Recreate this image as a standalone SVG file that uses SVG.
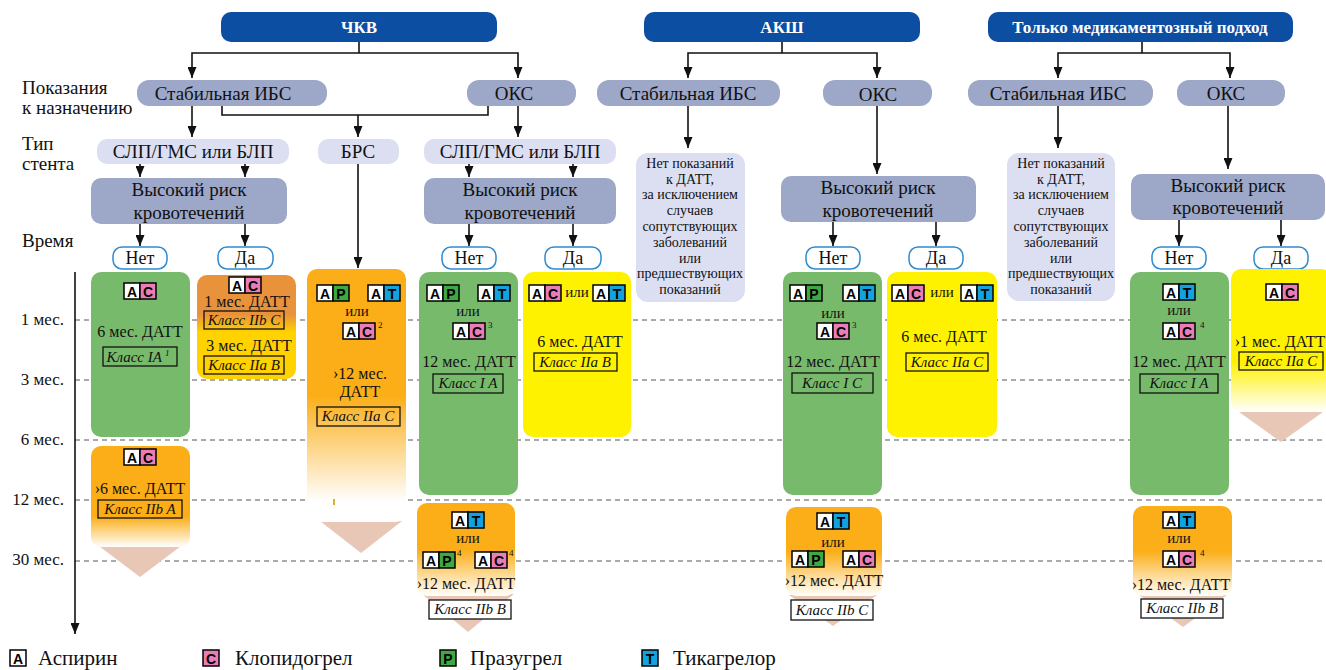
<svg xmlns="http://www.w3.org/2000/svg" width="1326" height="670" viewBox="0 0 1326 670">
<style>
text{font-family:"Liberation Serif","Times New Roman",serif;fill:#111}
.hdr{fill:#0B4EA2}
.hdrt{font-size:17px;font-weight:bold;fill:#fff;text-anchor:middle}
.p2{fill:#9DA7C8}
.p3{fill:#DCDFF1}
.c{text-anchor:middle}
.t19{font-size:19px}
.t18{font-size:18px}
.t16{font-size:16px}
.t15{font-size:15px}
.t14{font-size:14px}
.lbl{font-size:19px}
.tm{font-size:17px;text-anchor:end}
.cls{font-size:15px;font-style:italic;text-anchor:middle}
.sup{font-size:9px}
.cb{fill:none;stroke:#111;stroke-width:1.3}
.cbw{fill:#fff;stroke:#111;stroke-width:1.3}
.yn{fill:#fff;stroke:#2E8BCF;stroke-width:1.5}
.grn{fill:#78BA6B}
.yel{fill:#FFF200}
.tri{fill:#E8C7B7}
.grid{stroke:#555;stroke-width:1;stroke-dasharray:5 4;fill:none}
.conn{stroke:#111;stroke-width:1.6;fill:none}
.arr{marker-end:url(#ah)}
.lt{font-family:"Liberation Sans","DejaVu Sans",sans-serif;font-weight:bold;font-size:14px;text-anchor:middle;fill:#000}
.leg{font-size:21px}
</style>
<defs>
<marker id="ah" viewBox="0 0 11 9" refX="11" refY="4.5" markerWidth="11" markerHeight="9" markerUnits="userSpaceOnUse" orient="auto">
<path d="M0,0 L11,4.5 L0,9 z" fill="#111"/>
</marker>
<linearGradient id="gDa" x1="0" y1="0" x2="0" y2="1">
<stop offset="0" stop-color="#E8923B"/><stop offset="0.38" stop-color="#E8923B"/><stop offset="0.55" stop-color="#FFD200"/><stop offset="1" stop-color="#FFD200"/>
</linearGradient>
<linearGradient id="gOr1" x1="0" y1="0" x2="0" y2="1">
<stop offset="0" stop-color="#FBAE17"/><stop offset="0.7" stop-color="#FBAE17"/><stop offset="1" stop-color="#FFFFFF"/>
</linearGradient>
<linearGradient id="gOr2" x1="0" y1="0" x2="0" y2="1">
<stop offset="0" stop-color="#FBAE17"/><stop offset="0.5" stop-color="#FBAE17"/><stop offset="0.92" stop-color="#FFFFFF"/><stop offset="1" stop-color="#FFFFFF"/>
</linearGradient>
<linearGradient id="gOr3" x1="0" y1="0" x2="0" y2="1">
<stop offset="0" stop-color="#FBAE17"/><stop offset="0.5" stop-color="#FBAE17"/><stop offset="1" stop-color="#FFFFFF"/>
</linearGradient>
<linearGradient id="gYe" x1="0" y1="0" x2="0" y2="1">
<stop offset="0" stop-color="#FFF200"/><stop offset="0.65" stop-color="#FFF200"/><stop offset="1" stop-color="#FFFFFF"/>
</linearGradient>
<g id="cA"><rect x="0" y="0" width="16" height="16" fill="#fff" stroke="#000" stroke-width="1.5"/><text x="8" y="13.5" class="lt">A</text></g>
<g id="cC"><rect x="0" y="0" width="16" height="16" fill="#EA7DB5" stroke="#000" stroke-width="1.5"/><text x="8" y="13.5" class="lt">C</text></g>
<g id="cP"><rect x="0" y="0" width="16" height="16" fill="#3EA843" stroke="#000" stroke-width="1.5"/><text x="8" y="13.5" class="lt">P</text></g>
<g id="cT"><rect x="0" y="0" width="16" height="16" fill="#12A3DF" stroke="#000" stroke-width="1.5"/><text x="8" y="13.5" class="lt">T</text></g>
</defs>

<rect width="1326" height="670" fill="#fff"/>

<!-- row labels -->
<g id="labels">
<text x="22" y="94" class="lbl">Показания</text>
<text x="22" y="114" class="lbl">к назначению</text>
<text x="22" y="150" class="lbl">Тип</text>
<text x="22" y="170" class="lbl">стента</text>
<text x="22" y="247" class="lbl">Время</text>
<text x="64" y="325" class="tm">1 мес.</text>
<text x="64" y="385" class="tm">3 мес.</text>
<text x="64" y="445" class="tm">6 мес.</text>
<text x="64" y="505" class="tm">12 мес.</text>
<text x="64" y="565" class="tm">30 мес.</text>
</g>

<!-- time grid -->
<g id="grid">
<path class="grid" d="M75,320 H1326 M75,380 H1326 M75,440 H1326 M75,500 H1326 M75,561 H1326"/>
</g>

<!-- headers -->
<g id="h-pci"><rect class="hdr" x="221" y="12" width="276" height="30" rx="10"/><text x="359" y="33" class="hdrt">ЧКВ</text></g>
<g id="h-cabg"><rect class="hdr" x="644" y="12" width="276" height="30" rx="10"/><text x="782" y="33" class="hdrt">АКШ</text></g>
<g id="h-med"><rect class="hdr" x="988" y="12" width="305" height="30" rx="10"/><text x="1140" y="33" class="hdrt">Только медикаментозный подход</text></g>

<!-- indications -->
<g id="pci-sib"><rect class="p2" x="137" y="80" width="190" height="26" rx="12"/><text x="223" y="100" class="t19 c">Стабильная ИБС</text></g>
<g id="pci-oks"><rect class="p2" x="467" y="80" width="109" height="26" rx="12"/><text x="514" y="100" class="t19 c">ОКС</text></g>
<g id="cabg-sib"><rect class="p2" x="597" y="80" width="183" height="26" rx="12"/><text x="688" y="100" class="t19 c">Стабильная ИБС</text></g>
<g id="cabg-oks"><rect class="p2" x="823" y="80" width="109" height="26" rx="12"/><text x="878" y="101" class="t19 c">ОКС</text></g>
<g id="med-sib"><rect class="p2" x="968" y="80" width="185" height="26" rx="12"/><text x="1058" y="100" class="t19 c">Стабильная ИБС</text></g>
<g id="med-oks"><rect class="p2" x="1177" y="80" width="108" height="26" rx="12"/><text x="1226" y="100" class="t19 c">ОКС</text></g>

<!-- stent types -->
<g id="st1"><rect class="p3" x="97" y="139" width="192" height="25" rx="10"/><text x="193" y="158" class="t19 c">СЛП/ГМС или БЛП</text></g>
<g id="st2"><rect class="p3" x="318" y="139" width="81" height="25" rx="10"/><text x="358" y="158" class="t19 c">БРС</text></g>
<g id="st3"><rect class="p3" x="424" y="139" width="192" height="25" rx="10"/><text x="520" y="158" class="t19 c">СЛП/ГМС или БЛП</text></g>

<!-- bleeding risk -->
<g id="risk1"><rect class="p2" x="91" y="178" width="196" height="46" rx="10"/><text x="189" y="196" class="t19 c">Высокий риск</text><text x="189" y="219" class="t19 c">кровотечений</text></g>
<g id="risk2"><rect class="p2" x="424" y="178" width="192" height="46" rx="10"/><text x="520" y="196" class="t19 c">Высокий риск</text><text x="520" y="219" class="t19 c">кровотечений</text></g>
<g id="risk3"><rect class="p2" x="781" y="176" width="195" height="46" rx="10"/><text x="878" y="194" class="t19 c">Высокий риск</text><text x="878" y="217" class="t19 c">кровотечений</text></g>
<g id="risk4"><rect class="p2" x="1131" y="174" width="194" height="46" rx="10"/><text x="1228" y="192" class="t19 c">Высокий риск</text><text x="1228" y="214" class="t19 c">кровотечений</text></g>

<!-- no indication boxes -->
<g id="noind1"><rect class="p3" x="636" y="153" width="109" height="149" rx="12"/>
<g class="t14 c"><text x="690" y="168">Нет показаний</text><text x="690" y="184">к ДАТТ,</text><text x="690" y="199">за исключением</text><text x="690" y="215">случаев</text><text x="690" y="231">сопутствующих</text><text x="690" y="247">заболеваний</text><text x="690" y="263">или</text><text x="690" y="278">предшествующих</text><text x="690" y="294">показаний</text></g></g>
<g id="noind2"><rect class="p3" x="1007" y="153" width="108" height="148" rx="12"/>
<g class="t14 c"><text x="1061" y="168">Нет показаний</text><text x="1061" y="184">к ДАТТ,</text><text x="1061" y="199">за исключением</text><text x="1061" y="215">случаев</text><text x="1061" y="231">сопутствующих</text><text x="1061" y="247">заболеваний</text><text x="1061" y="263">или</text><text x="1061" y="278">предшествующих</text><text x="1061" y="294">показаний</text></g></g>

<!-- yes/no pills -->
<g id="yn1"><rect class="yn" x="113" y="247" width="54" height="22" rx="9"/><text x="140" y="264" class="t18 c">Нет</text></g>
<g id="yn2"><rect class="yn" x="218" y="247" width="55" height="22" rx="9"/><text x="245" y="264" class="t18 c">Да</text></g>
<g id="yn3"><rect class="yn" x="442" y="247" width="54" height="22" rx="9"/><text x="469" y="264" class="t18 c">Нет</text></g>
<g id="yn4"><rect class="yn" x="545" y="247" width="56" height="22" rx="9"/><text x="573" y="264" class="t18 c">Да</text></g>
<g id="yn5"><rect class="yn" x="806" y="247" width="54" height="22" rx="9"/><text x="833" y="264" class="t18 c">Нет</text></g>
<g id="yn6"><rect class="yn" x="909" y="247" width="54" height="22" rx="9"/><text x="936" y="264" class="t18 c">Да</text></g>
<g id="yn7"><rect class="yn" x="1152" y="247" width="54" height="22" rx="9"/><text x="1179" y="264" class="t18 c">Нет</text></g>
<g id="yn8"><rect class="yn" x="1254" y="247" width="54" height="22" rx="9"/><text x="1281" y="264" class="t18 c">Да</text></g>

<!-- triangles -->
<g id="triangles">
<polygon class="tri" points="99,546 181,546 140,577"/>
<polygon class="tri" points="320,521 402,521 361,553"/>
<polygon class="tri" points="422,594 514,594 468,632"/>
<polygon class="tri" points="789,595 877,595 833,626"/>
<polygon class="tri" points="1239,412 1323,412 1281,442"/>
<polygon class="tri" points="1139,595 1227,595 1183,627"/>
</g>

<!-- PCI stable, no bleeding risk -->
<g id="b-pci-sib-no">
<rect class="grn" x="91" y="272" width="99" height="165" rx="10"/>
<use href="#cA" x="124" y="283"/><use href="#cC" x="140" y="283"/>
<text x="140" y="337" class="t16 c">6 мес. ДАТТ</text>
<rect class="cb" x="103" y="347" width="74" height="19"/>
<text x="138" y="362" class="cls">Класс IA<tspan class="sup" dx="3" dy="-6">1</tspan></text>
</g>
<g id="b-pci-sib-no2">
<rect x="91" y="446" width="99" height="101" rx="10" fill="url(#gOr1)"/>
<use href="#cA" x="124" y="449"/><use href="#cC" x="140" y="449"/>
<text x="140" y="494" class="t16 c">›6 мес. ДАТТ</text>
<rect class="cb" x="98" y="500" width="84" height="18"/>
<text x="140" y="514" class="cls">Класс IIb A</text>
</g>
<!-- PCI stable, yes -->
<g id="b-pci-sib-yes">
<rect x="197" y="275" width="99" height="104" rx="10" fill="url(#gDa)"/>
<use href="#cA" x="229" y="277"/><use href="#cC" x="245" y="277"/>
<text x="247" y="307" class="t16 c">1 мес. ДАТТ</text>
<rect class="cb" x="204" y="311" width="80" height="18"/>
<text x="244" y="325" class="cls">Класс IIb C</text>
<text x="249" y="351" class="t16 c">3 мес. ДАТТ</text>
<rect class="cb" x="204" y="356" width="80" height="18"/>
<text x="244" y="370" class="cls">Класс IIa B</text>
</g>
<!-- BRS -->
<g id="b-brs">
<rect x="307" y="269" width="99" height="253" rx="10" fill="url(#gOr2)"/>
<use href="#cA" x="317" y="285"/><use href="#cP" x="333" y="285"/>
<use href="#cA" x="368" y="285"/><use href="#cT" x="384" y="285"/>
<text x="357" y="316" class="t15 c">или</text>
<use href="#cA" x="343" y="323"/><use href="#cC" x="359" y="323"/>
<text x="378" y="328" class="sup">2</text>
<text x="360" y="379" class="t16 c">›12 мес.</text>
<text x="360" y="397" class="t16 c">ДАТТ</text>
<rect class="cb" x="317" y="407" width="83" height="19"/>
<text x="358" y="421" class="cls">Класс IIa C</text>
<rect x="333" y="499" width="2" height="6" fill="#D4B42A"/>
</g>
<!-- PCI OKS no -->
<g id="b-pci-oks-no">
<rect class="grn" x="419" y="272" width="99" height="223" rx="10"/>
<use href="#cA" x="427" y="285"/><use href="#cP" x="443" y="285"/>
<use href="#cA" x="478" y="285"/><use href="#cT" x="494" y="285"/>
<text x="468" y="316" class="t15 c">или</text>
<use href="#cA" x="453" y="323"/><use href="#cC" x="469" y="323"/>
<text x="488" y="328" class="sup">3</text>
<text x="469" y="367" class="t16 c">12 мес. ДАТТ</text>
<rect class="cb" x="433" y="374" width="70" height="19"/>
<text x="468" y="388" class="cls">Класс I A</text>
</g>
<g id="b-pci-oks-no2">
<rect x="417" y="503" width="98" height="93" rx="10" fill="url(#gOr3)"/>
<use href="#cA" x="452" y="512"/><use href="#cT" x="468" y="512"/>
<text x="468" y="543" class="t15 c">или</text>
<use href="#cA" x="423" y="552"/><use href="#cP" x="439" y="552"/>
<text x="457" y="556" class="sup">4</text>
<use href="#cA" x="475" y="552"/><use href="#cC" x="491" y="552"/>
<text x="509" y="556" class="sup">4</text>
<text x="466" y="589" class="t16 c">›12 мес. ДАТТ</text>
<rect class="cbw" x="429" y="600" width="82" height="19"/>
<text x="470" y="614" class="cls">Класс IIb B</text>
</g>
<!-- PCI OKS yes -->
<g id="b-pci-oks-yes">
<rect class="yel" x="523" y="272" width="108" height="165" rx="10"/>
<use href="#cA" x="529" y="285"/><use href="#cC" x="545" y="285"/>
<text x="577" y="297" class="t15 c">или</text>
<use href="#cA" x="593" y="285"/><use href="#cT" x="609" y="285"/>
<text x="580" y="347" class="t16 c">6 мес. ДАТТ</text>
<rect class="cb" x="534" y="353" width="83" height="18"/>
<text x="575" y="367" class="cls">Класс IIa B</text>
</g>
<!-- CABG OKS no -->
<g id="b-cabg-oks-no">
<rect class="grn" x="783" y="272" width="99" height="223" rx="10"/>
<use href="#cA" x="790" y="285"/><use href="#cP" x="806" y="285"/>
<use href="#cA" x="843" y="285"/><use href="#cT" x="859" y="285"/>
<text x="833" y="318" class="t15 c">или</text>
<use href="#cA" x="817" y="323"/><use href="#cC" x="833" y="323"/>
<text x="852" y="328" class="sup">3</text>
<text x="833" y="367" class="t16 c">12 мес. ДАТТ</text>
<rect class="cb" x="792" y="373" width="81" height="20"/>
<text x="832" y="388" class="cls">Класс I C</text>
</g>
<g id="b-cabg-oks-no2">
<rect x="786" y="507" width="96" height="89" rx="10" fill="url(#gOr3)"/>
<use href="#cA" x="817" y="513"/><use href="#cT" x="833" y="513"/>
<text x="833" y="547" class="t15 c">или</text>
<use href="#cA" x="792" y="551"/><use href="#cP" x="808" y="551"/>
<use href="#cA" x="843" y="551"/><use href="#cC" x="859" y="551"/>
<text x="834" y="586" class="t16 c">›12 мес. ДАТТ</text>
<rect class="cbw" x="791" y="600" width="82" height="20"/>
<text x="832" y="615" class="cls">Класс IIb C</text>
</g>
<!-- CABG OKS yes -->
<g id="b-cabg-oks-yes">
<rect class="yel" x="887" y="272" width="110" height="165" rx="10"/>
<use href="#cA" x="892" y="285"/><use href="#cC" x="908" y="285"/>
<text x="942" y="297" class="t15 c">или</text>
<use href="#cA" x="961" y="285"/><use href="#cT" x="977" y="285"/>
<text x="944" y="342" class="t16 c">6 мес. ДАТТ</text>
<rect class="cb" x="906" y="353" width="82" height="18"/>
<text x="947" y="367" class="cls">Класс IIa C</text>
</g>
<!-- Med OKS no -->
<g id="b-med-oks-no">
<rect class="grn" x="1130" y="272" width="99" height="223" rx="10"/>
<use href="#cA" x="1163" y="284"/><use href="#cT" x="1179" y="284"/>
<text x="1179" y="315" class="t15 c">или</text>
<use href="#cA" x="1163" y="323"/><use href="#cC" x="1179" y="323"/>
<text x="1200" y="328" class="sup">4</text>
<text x="1179" y="367" class="t16 c">12 мес. ДАТТ</text>
<rect class="cb" x="1140" y="374" width="78" height="19"/>
<text x="1179" y="388" class="cls">Класс I A</text>
</g>
<g id="b-med-oks-no2">
<rect x="1133" y="506" width="99" height="90" rx="10" fill="url(#gOr3)"/>
<use href="#cA" x="1163" y="512"/><use href="#cT" x="1179" y="512"/>
<text x="1179" y="543" class="t15 c">или</text>
<use href="#cA" x="1163" y="551"/><use href="#cC" x="1179" y="551"/>
<text x="1200" y="556" class="sup">4</text>
<text x="1181" y="590" class="t16 c">›12 мес. ДАТТ</text>
<rect class="cbw" x="1141" y="599" width="82" height="19"/>
<text x="1182" y="613" class="cls">Класс IIb B</text>
</g>
<!-- Med OKS yes -->
<g id="b-med-oks-yes">
<rect x="1231" y="269" width="100" height="143" rx="10" fill="url(#gYe)"/>
<use href="#cA" x="1266" y="284"/><use href="#cC" x="1282" y="284"/>
<text x="1280" y="347" class="t16 c">›1 мес. ДАТТ</text>
<rect class="cb" x="1239" y="352" width="84" height="18"/>
<text x="1281" y="366" class="cls">Класс IIa C</text>
</g>

<!-- connectors -->
<g id="connectors" class="conn">
<path d="M359,42 V53"/>
<path class="arr" d="M359,53 H192 V78"/>
<path class="arr" d="M359,53 H518 V78"/>
<path d="M782,42 V53"/>
<path class="arr" d="M782,53 H688 V78"/>
<path class="arr" d="M782,53 H877 V78"/>
<path d="M1142,42 V53"/>
<path class="arr" d="M1142,53 H1058 V78"/>
<path class="arr" d="M1142,53 H1230 V78"/>
<path class="arr" d="M192,106 V137"/>
<path d="M222,106 V115 H488 V106"/>
<path class="arr" d="M358,115 V137"/>
<path class="arr" d="M518,106 V137"/>
<path class="arr" d="M358,164 V268"/>
<path class="arr" d="M140,164 V177"/>
<path class="arr" d="M245,164 V177"/>
<path class="arr" d="M469,164 V177"/>
<path class="arr" d="M573,164 V177"/>
<path class="arr" d="M140,224 V246"/>
<path class="arr" d="M245,224 V246"/>
<path class="arr" d="M469,224 V246"/>
<path class="arr" d="M573,224 V246"/>
<path class="arr" d="M833,222 V246"/>
<path class="arr" d="M936,222 V246"/>
<path class="arr" d="M1179,220 V246"/>
<path class="arr" d="M1281,220 V246"/>
<path class="arr" d="M688,106 V148"/>
<path class="arr" d="M877,106 V174"/>
<path class="arr" d="M1058,106 V148"/>
<path class="arr" d="M1228,106 V169"/>
<path class="arr" d="M75,272 V634"/>
</g>

<!-- legend -->
<g id="legend">
<use href="#cA" x="10" y="650"/><text x="38" y="665" class="leg">Аспирин</text>
<use href="#cC" x="203" y="650"/><text x="235" y="665" class="leg">Клопидогрел</text>
<use href="#cP" x="440" y="650"/><text x="470" y="665" class="leg">Празугрел</text>
<use href="#cT" x="642" y="650"/><text x="673" y="665" class="leg">Тикагрелор</text>
</g>
</svg>
